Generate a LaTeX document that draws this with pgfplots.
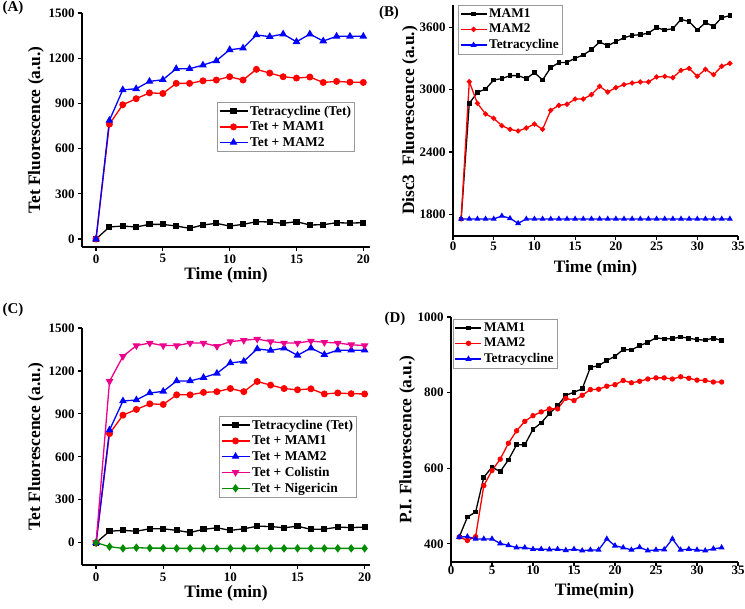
\documentclass[border=0pt]{standalone}
\usepackage{pgfplots}
\pgfplotsset{compat=1.18}
\usepackage{fontspec}
\setmainfont{Liberation Serif}
\definecolor{ngreen}{RGB}{0,140,0}
\newcommand{\lblfont}{\fontsize{17.5}{20}\selectfont\bfseries}
\pgfplotsset{
  myaxis/.style={
    scale only axis,
    axis x line*=bottom, axis y line*=left,
    axis line style={line width=1.2bp,-},
    tick align=outside,
    major tick length=4bp,
    every tick/.style={line width=1.2bp,black},
    /pgf/number format/assume math mode=true,
    /pgf/number format/1000 sep={},
    tick label style={font=\fontsize{13}{15}\selectfont\bfseries},
    legend style={font=\fontsize{13.5}{15}\selectfont\bfseries, draw=gray!80, line width=0.6bp,
      anchor=north west, inner sep=1.5bp, row sep=1.2bp, cells={anchor=west}},
    legend image code/.code={\draw[mark repeat=2,mark phase=2] plot coordinates {(0bp,0bp) (14bp,0bp) (28bp,0bp)};},
    every axis plot/.append style={line width=1.3bp},
  },
  yl/.style={every axis y label/.style={at={(axis description cs:#1,0.5)},rotate=90,anchor=center,font=\lblfont}},
  xl/.style={every axis x label/.style={at={(axis description cs:0.5,#1)},anchor=center,font=\lblfont}},
  sq/.style={black, mark=square*, mark size=2.4bp, mark options={solid}},
  ci/.style={red, mark=*, mark size=2.8bp, mark options={solid}},
  tr/.style={blue, mark=triangle*, mark size=3.2bp, mark options={solid}},
}
\pgfplotstableread{
t tet mam1 mam2 col nig
0 0 0 0 0 0
1 80 762 787 1127 -28
2 86 891 990 1302 -40
3 80 931 997 1377 -35
4 97 970 1046 1395 -38
5 97 966 1057 1377 -38
6 86 1033 1130 1377 -40
7 71 1033 1130 1395 -40
8 93 1050 1154 1395 -40
9 104 1055 1183 1372 -41
10 86 1077 1256 1405 -40
11 97 1055 1267 1414 -40
12 115 1126 1354 1423 -40
13 113 1101 1343 1405 -40
14 104 1077 1360 1395 -40
15 115 1068 1309 1395 -40
16 93 1075 1360 1409 -40
17 95 1039 1314 1400 -40
18 108 1046 1345 1395 -40
19 106 1041 1345 1383 -40
20 108 1039 1345 1377 -40
}\dataA
\pgfplotstableread{
t mam1 mam2 tet
1 1755 1755 1755
2 2868 3077 1755
3 2974 2868 1755
4 3006 2766 1755
5 3093 2724 1755
6 3106 2653 1784
7 3135 2618 1761
8 3135 2602 1713
9 3106 2631 1755
10 3164 2669 1755
11 3093 2618 1755
12 3212 2801 1755
13 3260 2849 1755
14 3263 2859 1755
15 3302 2910 1755
16 3334 2910 1755
17 3385 2952 1755
18 3459 3032 1755
19 3423 2977 1755
20 3462 3019 1755
21 3500 3048 1755
22 3523 3064 1755
23 3529 3074 1755
24 3545 3074 1755
25 3597 3122 1755
26 3574 3128 1755
27 3587 3115 1755
28 3677 3186 1755
29 3655 3205 1755
30 3574 3128 1755
31 3645 3196 1755
32 3610 3144 1755
33 3693 3225 1755
34 3712 3253 1755
}\dataB
\pgfplotstableread{
t mam1 mam2 tet
1 418 418 418
2 471 409 419
3 484 419 413
4 576 554 413
5 603 594 413
6 591 624 401
7 622 666 396
8 662 699 390
9 662 724 390
10 703 739 386
11 720 749 386
12 745 757 385
13 765 757 386
14 793 785 383
15 801 779 386
16 810 793 382
17 867 808 384
18 871 809 384
19 885 817 413
20 896 821 395
21 914 832 390
22 913 826 384
23 924 830 391
24 933 836 382
25 945 839 384
26 942 839 385
27 943 836 413
28 947 842 384
29 944 838 386
30 940 833 384
31 939 832 382
32 944 828 387
33 938 828 390
}\dataD
\begin{document}
\begin{tikzpicture}
\useasboundingbox (0bp,0bp) rectangle (745bp,609bp);
% Panel A
\begin{axis}[myaxis, at={(82bp,362bp)}, anchor=south west, width=288bp, height=234bp,
  xmin=-1.05, xmax=20.5, ymin=-53, ymax=1500,
  xtick={0,5,10,15,20}, ytick={0,300,600,900,1200,1500},
  xlabel={Time (min)}, ylabel={Tet Fluorescence (a.u.)},
  yl=-0.16, xl=-0.12,
  legend style={at={(0.469,0.62)}}]
\addplot[sq] table[x=t,y=tet]{\dataA};
\addplot[ci] table[x=t,y=mam1]{\dataA};
\addplot[tr] table[x=t,y=mam2]{\dataA};
\legend{Tetracycline (Tet),Tet + MAM1,Tet + MAM2}
\end{axis}
% Panel B
\begin{axis}[myaxis, at={(453bp,373bp)}, anchor=south west, width=285bp, height=231bp,
  xmin=0, xmax=35, ymin=1591, ymax=3815,
  xtick={0,5,...,35}, ytick={1800,2400,3000,3600},
  xticklabel style={yshift=1.5bp},
  xlabel={Time (min)}, ylabel={Disc3\ \ Fluorescence (a.u.)},
  yl=-0.151, xl=-0.14,
  legend style={at={(0.018,1.0)}, font=\fontsize{13.3}{14}\selectfont\bfseries},
  legend image code/.code={\draw[mark repeat=2,mark phase=2] plot coordinates {(0bp,0bp) (13bp,0bp) (26bp,0bp)};},
  sq/.append style={mark size=1.6bp}, ci/.append style={mark size=1.9bp}, tr/.append style={mark size=2.2bp}]
\addplot[sq] table[x=t,y=mam1]{\dataB};
\addplot[ci] table[x=t,y=mam2]{\dataB};
\addplot[tr] table[x=t,y=tet]{\dataB};
\legend{MAM1,MAM2,Tetracycline}
\end{axis}
% Panel C
\begin{axis}[myaxis, at={(82bp,44bp)}, anchor=south west, width=288bp, height=237bp,
  xmin=-1.05, xmax=20.4, ymin=-156, ymax=1500,
  xtick={0,5,10,15,20}, ytick={0,300,600,900,1200,1500},
  xlabel={Time (min)}, ylabel={Tet Fluorescence (a.u.)},
  yl=-0.16, xl=-0.119,
  legend style={at={(0.476,0.629)}}]
\addplot[sq] table[x=t,y=tet]{\dataA};
\addplot[ci] table[x=t,y=mam1]{\dataA};
\addplot[tr] table[x=t,y=mam2]{\dataA};
\addplot[magenta, mark=triangle*, mark size=3.2bp, mark options={solid,rotate=180}] table[x=t,y=col]{\dataA};
\addplot[ngreen, mark=diamond*, mark size=3.2bp, mark options={solid}] table[x=t,y=nig]{\dataA};
\legend{Tetracycline (Tet),Tet + MAM1,Tet + MAM2,Tet + Colistin,Tet + Nigericin}
\end{axis}
% Panel D
\begin{axis}[myaxis, at={(451bp,47bp)}, anchor=south west, width=287bp, height=245bp,
  xmin=0, xmax=35, ymin=352, ymax=1000,
  xtick={0,5,...,35}, ytick={400,600,800,1000},
  xticklabel style={yshift=4bp},
  xlabel={Time(min)}, ylabel={P.I. Fluorescence (a.u.)},
  yl=-0.153, xl=-0.118,
  legend style={at={(0.007,0.992)}, font=\fontsize{13.3}{14}\selectfont\bfseries},
  legend image code/.code={\draw[mark repeat=2,mark phase=2] plot coordinates {(0bp,0bp) (13bp,0bp) (26bp,0bp)};},
  sq/.append style={mark size=1.7bp}, ci/.append style={mark size=2bp}, tr/.append style={mark size=2.3bp}]
\addplot[sq] table[x=t,y=mam1]{\dataD};
\addplot[ci] table[x=t,y=mam2]{\dataD};
\addplot[tr] table[x=t,y=tet]{\dataD};
\legend{MAM1,MAM2,Tetracycline}
\end{axis}
\node[font=\fontsize{15}{17}\selectfont\bfseries] at (13bp,601bp) {(A)};
\node[font=\fontsize{15}{17}\selectfont\bfseries] at (389bp,596bp) {(B)};
\node[font=\fontsize{15}{17}\selectfont\bfseries] at (13bp,299bp) {(C)};
\node[font=\fontsize{15}{17}\selectfont\bfseries] at (395bp,290bp) {(D)};
\end{tikzpicture}
\end{document}
